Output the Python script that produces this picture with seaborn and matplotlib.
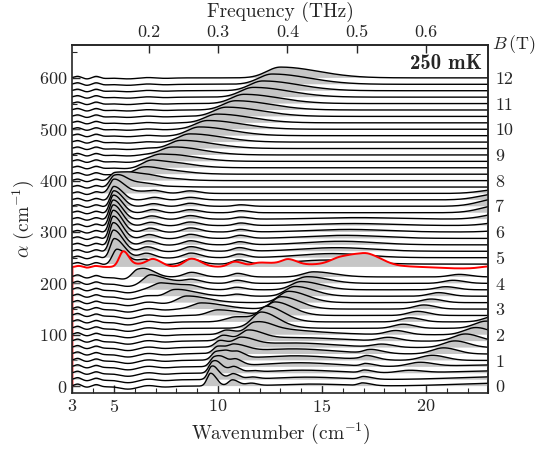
import numpy as np
import pandas as pd
import matplotlib
matplotlib.use("Agg")
import matplotlib.pyplot as plt
import seaborn as sns
from matplotlib.ticker import MultipleLocator, FixedLocator

sns.set_style("ticks")
plt.rcParams.update({
    "font.family": "serif",
    "font.serif": ["cmr10", "DejaVu Serif"],
    "mathtext.fontset": "cm",
    "axes.formatter.use_mathtext": True,
    "axes.unicode_minus": False,
    "font.size": 13,
    "xtick.direction": "in",
    "ytick.direction": "in",
    "axes.linewidth": 1.2,
})

# ---------------- data ----------------
fields = [0.0, 0.25, 0.5, 0.75, 1.0, 1.25, 1.5, 1.75, 2.0, 2.25, 2.5, 2.75,
          3.0, 3.25, 3.5, 3.75, 4.0, 4.25, 4.5, 4.75, 5.0, 5.25, 5.5, 5.75,
          6.0, 6.25, 6.5, 6.75, 7.0, 7.25, 7.5, 7.75, 8.0, 8.25, 8.5, 8.75,
          9.0, 9.25, 9.5, 9.75, 10.0, 10.25, 10.5, 10.75, 11.0, 11.25, 11.5,
          11.75, 12.0]
red_field = 4.5
b_ticks = [0, 1, 2, 3, 4, 5, 6, 7, 8, 9, 10, 11, 12]
thz_ticks = [0.2, 0.3, 0.4, 0.5, 0.6]
alpha_ticks = [0, 100, 200, 300, 400, 500, 600]
wn_ticks = [3, 5, 10, 15, 20]

# low-field line at 9.65 cm-1 (slow branch)
aslow_B = [0.0, 0.25, 0.5, 0.75, 1.0, 1.25, 1.5, 1.75, 2.0]
aslow_pos = [9.65, 9.7, 9.75, 9.82, 9.9, 10.0, 10.1, 10.25, 10.4]
aslow_amp = [25, 22, 20, 17, 15, 13, 12, 10, 8]
aslow_wid = [0.17, 0.18, 0.19, 0.2, 0.21, 0.22, 0.23, 0.25, 0.27]

# low-field line, fast branch
afast_B = [0.25, 0.5, 0.75, 1.0, 1.25, 1.5, 1.75, 2.0, 2.25, 2.5, 2.75, 3.0,
           3.25, 3.5, 3.75, 4.0, 4.25]
afast_pos = [9.9, 10.1, 10.3, 10.5, 10.8, 11.1, 11.45, 11.75, 12.1, 12.4,
             12.75, 13.05, 13.4, 13.7, 14.0, 14.3, 14.6]
afast_amp = [6, 9, 12, 14, 15, 16, 18, 20, 24, 26, 26, 24, 22, 19, 16, 13, 10]
afast_wid = [0.25, 0.25, 0.27, 0.28, 0.3, 0.32, 0.34, 0.36, 0.38, 0.4, 0.42,
             0.44, 0.45, 0.46, 0.48, 0.5, 0.5]

# small lines at 10.7 and 11.6 cm-1
a2_B = [0.0, 0.25, 0.5, 0.75, 1.0]
a2_pos = [10.7, 10.75, 10.8, 10.9, 11.0]
a2_amp = [12, 10, 9, 7, 5]
a2_wid = [0.2, 0.2, 0.2, 0.2, 0.2]
a3_B = [0.0, 0.25, 0.5]
a3_pos = [11.6, 11.65, 11.7]
a3_amp = [5, 4, 3]
a3_wid = [0.25, 0.25, 0.25]

# soft mode going down to 5 cm-1
soft_B = [2.0, 2.25, 2.5, 2.75, 3.0, 3.25, 3.5, 3.75, 4.0, 4.25, 4.5, 4.75,
          5.0, 5.25, 5.5, 5.75, 6.0, 6.25, 6.5, 6.75, 7.0, 7.25, 7.5, 7.75, 8.0]
soft_pos = [12.6, 11.8, 10.9, 10.0, 9.2, 8.5, 7.9, 7.3, 6.8, 6.15, 5.5, 5.15,
            5.02, 4.98, 4.97, 4.97, 4.97, 4.97, 4.97, 4.98, 5.0, 5.0, 5.0,
            5.02, 5.05]
soft_amp = [6, 8, 10, 11, 12, 13, 14, 15, 16, 18, 22, 30, 38, 42, 44, 44, 43,
            41, 38, 35, 31, 27, 23, 19, 15]
soft_wid = [0.55, 0.5, 0.5, 0.45, 0.45, 0.42, 0.4, 0.38, 0.35, 0.3, 0.25,
            0.22, 0.2, 0.19, 0.18, 0.18, 0.18, 0.18, 0.18, 0.18, 0.18, 0.18,
            0.2, 0.22, 0.25]

# high-field mode rising to 13 cm-1
high_B = [7.5, 7.75, 8.0, 8.25, 8.5, 8.75, 9.0, 9.25, 9.5, 9.75, 10.0, 10.25,
          10.5, 10.75, 11.0, 11.25, 11.5, 11.75, 12.0]
high_pos = [5.15, 5.55, 6.0, 6.45, 6.9, 7.3, 7.75, 8.2, 8.65, 9.1, 9.5, 9.95,
            10.4, 10.85, 11.25, 11.7, 12.15, 12.6, 13.0]
high_amp = [6, 10, 13, 14, 15, 15, 16, 16, 16, 17, 17, 17, 18, 18, 18, 19, 19,
            20, 21]
high_wid = [0.45, 0.45, 0.48, 0.5, 0.5, 0.52, 0.52, 0.55, 0.55, 0.55, 0.58,
            0.58, 0.6, 0.6, 0.6, 0.62, 0.62, 0.64, 0.65]

# weak lines near 6.7, 8.7 and 11 cm-1 at intermediate field
m6_B = [4.75, 5.0, 5.25, 5.5, 5.75, 6.0, 6.25, 6.5, 6.75, 7.0, 7.25, 7.5]
m6_pos = [6.5, 6.55, 6.6, 6.65, 6.7, 6.75, 6.8, 6.85, 6.9, 6.95, 7.0, 7.05]
m6_amp = [8, 8, 8, 7, 7, 7, 6, 6, 6, 5, 5, 4]
m6_wid = [0.3] * 12
m7_B = [3.75, 4.0, 4.25, 4.5, 4.75, 5.0, 5.25, 5.5, 5.75, 6.0, 6.25, 6.5,
        6.75, 7.0, 7.25, 7.5]
m7_pos = [8.75, 8.75, 8.73, 8.73, 8.7, 8.7, 8.7, 8.68, 8.68, 8.68, 8.66,
          8.66, 8.65, 8.65, 8.65, 8.65]
m7_amp = [5, 7, 9, 12, 10, 9, 9, 8, 8, 8, 7, 7, 6, 6, 5, 5]
m7_wid = [0.35] * 16
m8_B = [3.5, 3.75, 4.0, 4.25, 4.5, 4.75, 5.0, 5.25, 5.5, 5.75, 6.0, 6.25,
        6.5, 6.75, 7.0]
m8_pos = [10.9, 10.9, 10.92, 10.94, 10.96, 10.98, 11.0, 11.02, 11.04, 11.06,
          11.08, 11.1, 11.1, 11.1, 11.1]
m8_amp = [4, 5, 6, 7, 8, 8, 7, 7, 6, 6, 5, 5, 4, 4, 3]
m8_wid = [0.3] * 15

# broad hump around 15-16 cm-1 just above 4.5 T
hump_B = [4.75, 5.0, 5.25, 5.5, 5.75, 6.0, 6.25, 6.5]
hump_pos = [15.3, 15.5, 15.7, 15.9, 16.1, 16.3, 16.5, 16.7]
hump_amp = [8, 8, 7, 7, 6, 5, 4, 3]
hump_wid = [1.6, 1.6, 1.7, 1.7, 1.8, 1.8, 1.9, 1.9]

# rise at the right edge around 7 T
edge_B = [6.0, 6.25, 6.5, 6.75, 7.0, 7.25, 7.5]
edge_pos = [24.2, 24.0, 23.8, 23.6, 23.5, 23.5, 23.6]
edge_amp = [4, 8, 12, 15, 15, 12, 8]
edge_wid = [0.9] * 7

# low-field line moving from 19 to 23 cm-1
m3_B = [0.5, 0.75, 1.0, 1.25, 1.5, 1.75, 2.0, 2.25, 2.5]
m3_pos = [19.2, 19.7, 20.3, 20.85, 21.4, 21.9, 22.4, 22.9, 23.4]
m3_amp = [5, 8, 10, 12, 13, 14, 14, 14, 12]
m3_wid = [0.55] * 9

# weak line moving from 17 to 21.6 cm-1
m4_B = [1.0, 1.25, 1.5, 1.75, 2.0, 2.25, 2.5, 2.75, 3.0, 3.25, 3.5, 3.75,
        4.0, 4.25]
m4_pos = [17.2, 17.55, 17.9, 18.2, 18.55, 18.9, 19.25, 19.6, 19.9, 20.25,
          20.6, 20.95, 21.3, 21.6]
m4_amp = [4, 5, 6, 7, 8, 8, 8, 8, 8, 7, 7, 6, 6, 5]
m4_wid = [0.45] * 14

# kink at 17 cm-1 at low field
k17_B = [0.0, 0.25, 0.5, 0.75, 1.0, 1.25]
k17_pos = [16.95, 17.0, 17.05, 17.1, 17.15, 17.2]
k17_amp = [5, 5, 5, 5, 4, 3]
k17_wid = [0.2] * 6

# broad low-field background hump
bg_B = [0.0, 0.25, 0.5, 0.75, 1.0, 1.25, 1.5, 1.75, 2.0]
bg_pos = [14.5, 14.3, 14.1, 13.9, 13.7, 13.6, 13.6, 13.7, 13.8]
bg_amp = [4, 5, 6, 8, 9, 10, 9, 7, 5]
bg_wid = [1.6, 1.6, 1.7, 1.8, 1.9, 2.0, 2.0, 2.0, 2.0]

# gentle rise toward the right at zero field
tail_B = [0.0, 0.25, 0.5, 0.75]
tail_pos = [24.0, 24.0, 24.0, 24.0]
tail_amp = [6, 6, 5, 4]
tail_wid = [2.5, 2.5, 2.5, 2.5]

# fringes at low wavenumber (common to all spectra)
fringe_pos = [3.25, 3.7, 4.15, 4.6, 5.7, 6.6, 7.4]
fringe_amp_low = [4, -2, 3, -1, -6, 2, -2]
fringe_amp_high = [3, -2, 3, -1, -2, 1, -1]
fringe_wid = [0.15, 0.15, 0.15, 0.2, 0.45, 0.4, 0.4]

# red spectrum at 4.5 T
red_pos = [3.3, 3.7, 4.1, 5.45, 6.2, 6.9, 8.73, 10.82, 11.94, 12.8, 13.4,
           15.2, 15.95, 16.6, 17.3, 21.7, 23.0]
red_amp = [2, -1.5, 2, 30, 5, 14, 16, 10, 6, 5, 9, 5, 14, 6, 18, -3, 3]
red_wid = [0.12, 0.12, 0.15, 0.2, 0.35, 0.3, 0.35, 0.3, 0.3, 0.5, 0.3, 1.8,
           0.5, 0.4, 0.5, 1.2, 0.4]
red_level = 7
red_start = 0.0

# ---------------- model building ----------------
modes = [
    (aslow_B, aslow_pos, aslow_amp, aslow_wid, 1.6),
    (afast_B, afast_pos, afast_amp, afast_wid, 2.0),
    (a2_B, a2_pos, a2_amp, a2_wid, 1.5),
    (a3_B, a3_pos, a3_amp, a3_wid, 1.2),
    (soft_B, soft_pos, soft_amp, soft_wid, 2.4),
    (high_B, high_pos, high_amp, high_wid, 2.8),
    (m6_B, m6_pos, m6_amp, m6_wid, 1.3),
    (m7_B, m7_pos, m7_amp, m7_wid, 1.3),
    (m8_B, m8_pos, m8_amp, m8_wid, 1.3),
    (hump_B, hump_pos, hump_amp, hump_wid, 1.0),
    (edge_B, edge_pos, edge_amp, edge_wid, 1.0),
    (m3_B, m3_pos, m3_amp, m3_wid, 1.2),
    (m4_B, m4_pos, m4_amp, m4_wid, 1.2),
    (k17_B, k17_pos, k17_amp, k17_wid, 2.0),
    (bg_B, bg_pos, bg_amp, bg_wid, 1.0),
    (tail_B, tail_pos, tail_amp, tail_wid, 1.0),
]

x = np.linspace(3.0, 23.0, 1400)


def peak(xv, pos, amp, wid, asym):
    w = np.where(xv < pos, wid, wid * asym)
    return amp * np.exp(-0.5 * ((xv - pos) / w) ** 2)


def spectrum(b):
    y = np.zeros_like(x)
    for Bs, ps, amps, ws, asym in modes:
        if b in Bs:
            j = Bs.index(b)
            y += peak(x, ps[j], amps[j], ws[j], asym)
    famp = fringe_amp_low if b < red_field else fringe_amp_high
    for p, a, w in zip(fringe_pos, famp, fringe_wid):
        y += peak(x, p, a, w, 1.0)
    return y


def red_spectrum():
    y = np.full_like(x, float(red_level))
    for p, a, w in zip(red_pos, red_amp, red_wid):
        y += peak(x, p, a, w, 1.3)
    return y


OFFSET = 50.0  # alpha offset per tesla

fig = plt.figure(figsize=(5.39, 4.5), dpi=100)
ax = fig.add_axes([0.1343, 0.126, 0.906 - 0.1343, 0.9 - 0.126])

n = len(fields)
for i in range(n - 1, -1, -1):
    b = fields[i]
    base = OFFSET * b
    z = 3 + 3 * (n - 1 - i)
    if b == red_field:
        yy = base + red_spectrum()
        fill_base = base + red_level
        xs = np.concatenate([[x[0]], x])
        ys = np.concatenate([[red_start], yy])
        color, lw = "#ff0000", 1.4
    else:
        yy = base + spectrum(b)
        fill_base = base
        xs, ys = x, yy
        color, lw = "black", 1.0
    ax.fill_between(x, fill_base, yy, where=yy > fill_base, interpolate=True,
                    color="#c6c6c6", lw=0, zorder=z)
    df = pd.DataFrame({"w": xs, "a": ys})
    sns.lineplot(data=df, x="w", y="a", ax=ax, color=color, lw=lw,
                 sort=False, estimator=None, zorder=z + 1)

ax.set_xlim(3, 23)
ax.set_ylim(-14, 664)
ax.xaxis.set_major_locator(FixedLocator(wn_ticks))
ax.xaxis.set_minor_locator(MultipleLocator(1))
ax.yaxis.set_major_locator(FixedLocator(alpha_ticks))
ax.yaxis.set_minor_locator(MultipleLocator(50))
ax.tick_params(which="major", length=6, width=1.0, top=False, right=False)
ax.tick_params(which="minor", length=3.5, width=0.8, top=False, right=False)
ax.set_xlabel(r"Wavenumber (cm$^{-1}$)", labelpad=4, fontsize=14)
ax.set_ylabel(r"$\alpha$ (cm$^{-1}$)", labelpad=2, fontsize=14)

sec_x = ax.secondary_xaxis("top", functions=(lambda w: w / 33.356,
                                             lambda f: f * 33.356))
sec_x.set_xticks(thz_ticks)
sec_x.set_xticklabels([f"{t:.1f}" for t in thz_ticks])
sec_x.tick_params(direction="in", length=6, width=1.0)
sec_x.set_xlabel("Frequency (THz)", labelpad=6, fontsize=14)

sec_y = ax.secondary_yaxis("right", functions=(lambda a: a / OFFSET,
                                               lambda bb: bb * OFFSET))
sec_y.set_yticks(b_ticks)
sec_y.set_yticklabels([str(t) for t in b_ticks])
sec_y.tick_params(length=0, pad=5)

ax.text(1.008, 1.0, r"$B\,$(T)", transform=ax.transAxes, ha="left",
        va="center", fontsize=13)
ax.text(0.985, 0.975, "250 mK", transform=ax.transAxes, family="cmb10",
        ha="right", va="top", fontsize=15, zorder=500)

for s in ax.spines.values():
    s.set_zorder(400)

fig.savefig("out.png", dpi=100)
